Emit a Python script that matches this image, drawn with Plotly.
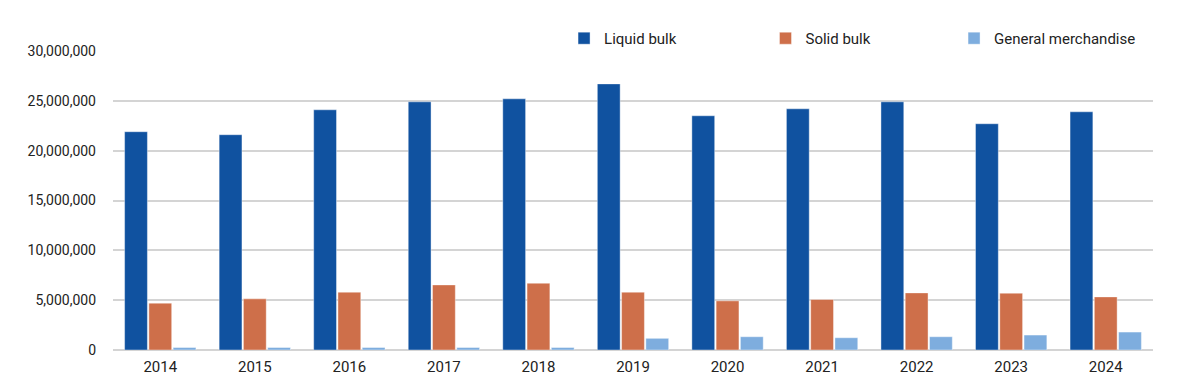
import plotly.graph_objects as go

years = ["2014", "2015", "2016", "2017", "2018", "2019", "2020", "2021", "2022", "2023", "2024"]
liquid_bulk = [21900000, 21600000, 24100000, 24900000, 25200000, 26700000, 23500000, 24200000, 24900000, 22700000, 23900000]
solid_bulk = [4700000, 5130000, 5800000, 6530000, 6700000, 5800000, 4930000, 5070000, 5730000, 5700000, 5330000]
general_merchandise = [250000, 250000, 250000, 250000, 250000, 1170000, 1330000, 1230000, 1330000, 1500000, 1800000]

series_names = ["Liquid bulk", "Solid bulk", "General merchandise"]
colors = ["#1052A0", "#CE6F4A", "#7EADDE"]
ytick_vals = [0, 5000000, 10000000, 15000000, 20000000, 25000000, 30000000]
ytick_text = ["0", "5,000,000", "10,000,000", "15,000,000", "20,000,000", "25,000,000", "30,000,000"]

font_family = "Roboto, sans-serif"
legend_ids = ["legend", "legend2", "legend3"]
legend_x = [0.4337, 0.6274, 0.8087]

fig = go.Figure()
for name, vals, col, lid in zip(series_names, [liquid_bulk, solid_bulk, general_merchandise], colors, legend_ids):
    fig.add_trace(go.Bar(
        x=years, y=vals, name=name, legend=lid,
        marker=dict(color=col, line=dict(color="rgba(255,255,255,0.5)", width=0.8)),
    ))

legend_common = dict(
    orientation="h", xanchor="left", y=1.042, yanchor="middle",
    itemwidth=30, font=dict(family=font_family, size=15, color="#222"),
    bgcolor="rgba(0,0,0,0)", borderwidth=0,
)

# page body has an 8px default margin, so the figure is sized to fill the rest of the window
fig.update_layout(
    width=1192, height=382,
    margin=dict(l=105, r=47, t=43, b=40, autoexpand=False),
    paper_bgcolor="white", plot_bgcolor="white",
    barmode="group", bargap=0.23, bargroupgap=0.06,
    font=dict(family=font_family, size=14, color="#222"),
    showlegend=True,
    legend=dict(x=legend_x[0], **legend_common),
    legend2=dict(x=legend_x[1], **legend_common),
    legend3=dict(x=legend_x[2], **legend_common),
    xaxis=dict(
        showgrid=False, showline=False, ticks="", ticklabelstandoff=6,
        tickfont=dict(family=font_family, size=15, color="#222"),
    ),
    yaxis=dict(
        range=[0, 30000000], tickvals=ytick_vals, ticktext=ytick_text,
        showgrid=True, gridcolor="#d4d4d4", gridwidth=1.5,
        zeroline=True, zerolinecolor="#d4d4d4", zerolinewidth=2,
        showline=False, ticks="", ticklabelstandoff=16,
        tickfont=dict(family=font_family, size=14, color="#222"),
    ),
)

fig.write_html("out.html")
